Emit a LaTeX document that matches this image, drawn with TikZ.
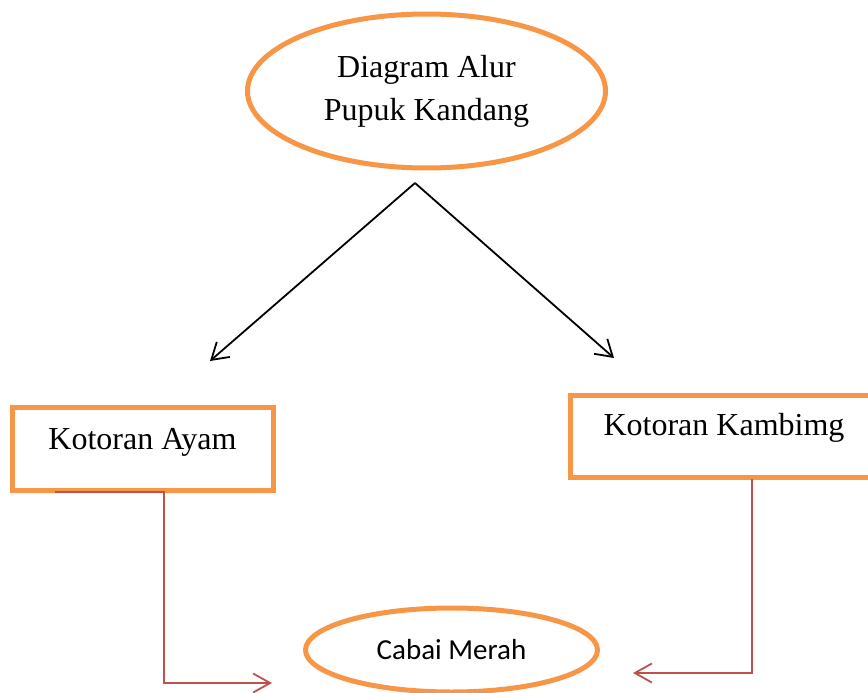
\documentclass[tikz,border=0pt]{standalone}
\usepackage{fontspec}
\setmainfont{Liberation Serif}
\newfontfamily\carlito{Carlito}
\usetikzlibrary{shapes.geometric,arrows.meta}
\definecolor{orng}{HTML}{F79646}
\definecolor{redln}{HTML}{C0504D}

\begin{document}
\begin{tikzpicture}[x=1pt,y=-1pt,
  oval/.style={ellipse,draw=orng,line width=5pt,inner sep=0pt},
  kotak/.style={rectangle,draw=orng,line width=5pt,inner sep=0pt,font=\fontsize{32}{38}\selectfont},
  blk/.style={line width=1.8pt,-{Straight Barb[length=16pt,width=20pt]}},
  redarr/.style={draw=redln,line width=1.8pt,-{Straight Barb[length=17pt,width=19pt]}}]
\useasboundingbox (0,0) rectangle (868,693);

\node[oval,minimum width=358pt,minimum height=154pt,align=center,font=\fontsize{32}{43}\selectfont] (pupuk) at (426.5,91) {Diagram Alur\\Pupuk Kandang};
\node[kotak,minimum width=261pt,text height=42pt,text depth=41pt] (ayam) at (142.5,448.5) {Kotoran Ayam};
\node[kotak,minimum width=308pt,text height=40pt,text depth=42pt] (kambing) at (724,436) {Kotoran Kambimg};
\node[oval,minimum width=292pt,minimum height=84pt,font=\carlito\fontsize{29}{35}\selectfont] (cabai) at (451.5,650) {Cabai Merah};

\coordinate (puncak) at (415,183);
\coordinate (kiri) at (210,361);
\coordinate (kanan) at (614,358);
\coordinate (a1) at (55,492);
\coordinate (a2) at (272,683);
\coordinate (b1) at (752,479);
\coordinate (b2) at (633,673);

\path [blk] (puncak) edge (kiri); \path [blk] (puncak) edge (kanan);
\draw [redarr] (a1) -- (164,492) |- (a2);
\draw [redarr] (b1) |- (b2);

\end{tikzpicture}
\end{document}
